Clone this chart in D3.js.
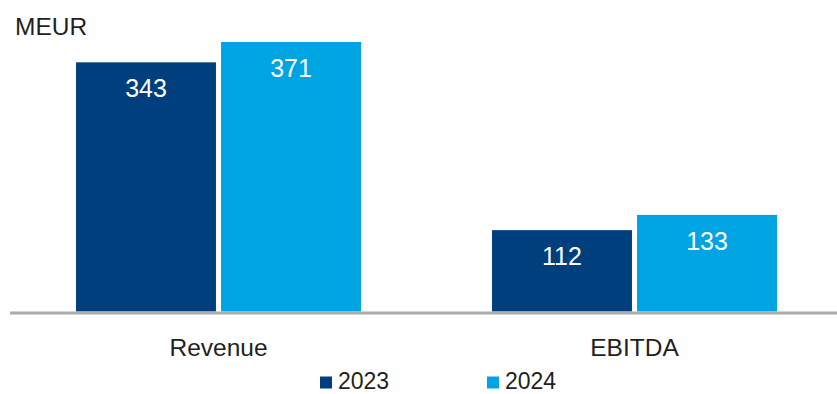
<!DOCTYPE html>
<html>
<head>
<meta charset="utf-8">
<script src="https://cdn.jsdelivr.net/npm/d3@7"></script>
<style>
  html, body { margin: 0; padding: 0; background: #fff; }
  svg { display: block; font-family: "Liberation Sans", Arial, Helvetica, sans-serif; }
</style>
</head>
<body>
<svg id="chart" width="837" height="394"></svg>
<script>
// Revenue and EBITDA, MEUR
const categories = ["Revenue", "EBITDA"];
const years = ["2023", "2024"];
const values2023 = [343, 112];
const values2024 = [371, 133];
const unitLabel = "MEUR";

const seriesValues = { "2023": values2023, "2024": values2024 };
const colors = d3.scaleOrdinal().domain(years).range(["#003f7d", "#00a4e3"]);

const svg = d3.select("#chart");
const W = 837;
const baseY = 311.5;

const x0 = d3.scaleBand()
  .domain(categories)
  .range([10.5, 842.5])
  .paddingInner(0.315)
  .paddingOuter(0.1575);

const x1 = d3.scaleBand()
  .domain(years)
  .range([0, x0.bandwidth()])
  .paddingInner(0.035)
  .paddingOuter(0);

const y = d3.scaleLinear()
  .domain([0, 371])
  .range([baseY, 42]);

// unit label
svg.append("text")
  .attr("x", 15)
  .attr("y", 35)
  .attr("font-size", 24.5)
  .attr("fill", "#231f20")
  .text(unitLabel);

// bars
const groups = svg.selectAll("g.group")
  .data(categories)
  .join("g")
  .attr("class", "group")
  .attr("transform", d => `translate(${x0(d)},0)`);

groups.selectAll("rect")
  .data((c, i) => years.map(yr => ({ year: yr, value: seriesValues[yr][i] })))
  .join("rect")
  .attr("x", d => x1(d.year))
  .attr("y", d => y(d.value))
  .attr("width", x1.bandwidth())
  .attr("height", d => baseY - y(d.value))
  .attr("fill", d => colors(d.year));

groups.selectAll("text.val")
  .data((c, i) => years.map(yr => ({ year: yr, value: seriesValues[yr][i] })))
  .join("text")
  .attr("class", "val")
  .attr("x", d => x1(d.year) + x1.bandwidth() / 2)
  .attr("y", d => y(d.value) + 35)
  .attr("text-anchor", "middle")
  .attr("font-size", 25)
  .attr("fill", "#ffffff")
  .text(d => d.value);

// baseline
svg.append("line")
  .attr("x1", 10)
  .attr("x2", W)
  .attr("y1", baseY + 1.5)
  .attr("y2", baseY + 1.5)
  .attr("stroke", "#ababab")
  .attr("stroke-width", 3);

// category axis
const xAxis = d3.axisBottom(x0).tickSize(0).tickPadding(0);
const axisG = svg.append("g")
  .attr("transform", `translate(0,${baseY})`)
  .call(xAxis);
axisG.select(".domain").remove();
axisG.selectAll("text")
  .attr("font-family", "Liberation Sans, Arial, sans-serif")
  .attr("font-size", 24.5)
  .attr("fill", "#231f20")
  .attr("dy", null)
  .attr("y", 44.5);

// legend
const legendItems = [
  { year: "2023", x: 320 },
  { year: "2024", x: 487 }
];
const lg = svg.selectAll("g.legend")
  .data(legendItems)
  .join("g")
  .attr("class", "legend")
  .attr("transform", d => `translate(${d.x},0)`);
lg.append("rect")
  .attr("x", 0)
  .attr("y", 376.5)
  .attr("width", 12)
  .attr("height", 12)
  .attr("fill", d => colors(d.year));
lg.append("text")
  .attr("x", 18)
  .attr("y", 389)
  .attr("font-size", 23)
  .attr("fill", "#231f20")
  .text(d => d.year);
</script>
</body>
</html>
